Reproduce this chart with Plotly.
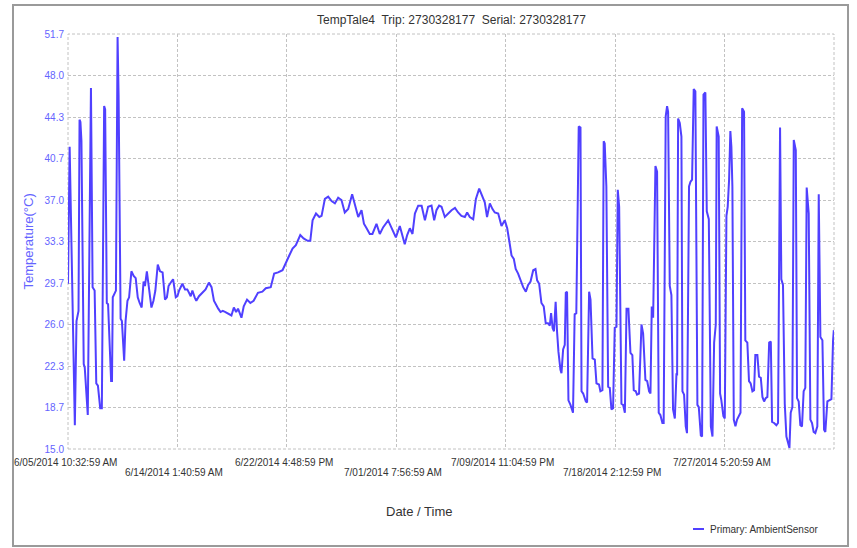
import pandas as pd
import plotly.graph_objects as go

# ---- text -------------------------------------------------------------
chart_title = "TempTale4  Trip: 2730328177  Serial: 2730328177"
series_name = "Primary: AmbientSensor"
x_title = "Date / Time"
y_title = "Temperature(°C)"

# ---- axes -------------------------------------------------------------
start_time = pd.Timestamp("2014-06-05 10:32:59")
tick_interval = pd.Timedelta(days=8, hours=15, minutes=8)
date_tick_labels = [
    "6/05/2014 10:32:59 AM",
    "6/14/2014 1:40:59 AM",
    "6/22/2014 4:48:59 PM",
    "7/01/2014 7:56:59 AM",
    "7/09/2014 11:04:59 PM",
    "7/18/2014 2:12:59 PM",
    "7/27/2014 5:20:59 AM",
]
temp_ticks = [15.0, 18.667, 22.333, 26.0, 29.667, 33.333, 37.0, 40.667, 44.333, 48.0, 51.667]
temp_tick_labels = ["15.0", "18.7", "22.3", "26.0", "29.7", "33.3", "37.0", "40.7", "44.3", "48.0", "51.7"]

# ---- logger readings: days since trip start, temperature in °C ---------
elapsed_days = [
    0.00, 0.05, 0.13, 0.54, 0.67, 0.83, 0.91, 0.98, 1.06, 1.24,
    1.32, 1.56, 1.81, 1.94, 2.10, 2.23, 2.36, 2.54, 2.67, 2.85,
    2.93, 3.06, 3.16, 3.40, 3.47, 3.53, 3.65, 3.78, 3.91, 3.99,
    4.15, 4.25, 4.43, 4.54, 4.69, 4.82, 5.00, 5.18, 5.34, 5.50,
    5.65, 5.81, 5.96, 6.07, 6.22, 6.38, 6.58, 6.74, 6.89, 7.08,
    7.26, 7.46, 7.65, 7.80, 7.93, 8.16, 8.29, 8.50, 8.63,
    8.76, 9.02, 9.23, 9.41, 9.68, 9.81, 9.99, 10.12, 10.33, 10.59,
    10.85, 11.11, 11.32, 11.51, 11.64, 11.85, 12.03, 12.21, 12.42, 12.68,
    12.89, 13.08, 13.26, 13.41, 13.68, 13.86, 14.12, 14.38, 14.64, 14.98,
    15.33, 15.60, 15.99, 16.26, 16.57, 16.92, 17.26, 17.45, 17.71, 17.97,
    18.32, 18.58, 18.90, 19.11, 19.29, 19.56, 19.82, 20.00, 20.26, 20.52,
    20.79, 21.05, 21.31, 21.57, 21.83, 22.10, 22.41, 22.62, 22.89, 23.15,
    23.34, 23.55, 23.80, 24.01, 24.33, 24.59, 24.86, 25.25, 25.52, 25.86,
    26.17, 26.56,
    26.75, 26.96, 27.17, 27.36, 27.62, 27.89, 28.15, 28.40, 28.67, 28.88,
    29.06, 29.27, 29.46, 29.72, 29.99, 30.25, 30.52, 30.77, 31.03, 31.30,
    31.48, 31.69, 31.96, 32.17, 32.43, 32.70, 32.87, 33.05, 33.27, 33.48,
    33.66, 33.93, 34.19, 34.45, 34.64, 34.80, 34.98, 35.16, 35.31, 35.50,
    35.68, 35.90, 36.11, 36.29, 36.48, 36.69, 36.87, 37.00, 37.16, 37.34,
    37.52, 37.68, 37.86, 38.00,
    38.10, 38.22, 38.33, 38.46, 38.57, 38.68, 38.84, 38.92, 39.05, 39.18,
    39.26, 39.36, 39.47, 39.63, 39.83, 39.96, 40.09, 40.28, 40.42, 40.50,
    40.63, 40.84, 40.94, 41.10, 41.21, 41.37, 41.55, 41.68, 41.88, 41.99,
    42.15, 42.25, 42.33, 42.46, 42.60, 42.73, 42.86, 42.99, 43.12, 43.26,
    43.36, 43.47, 43.65, 43.78, 43.92, 44.05, 44.20, 44.36, 44.51, 44.62,
    44.78, 44.88, 45.04, 45.23, 45.36, 45.54, 45.68, 45.83, 45.94, 46.04,
    46.15, 46.33, 46.46, 46.59, 46.72, 46.88, 46.98, 47.14, 47.25, 47.33,
    47.46, 47.59, 47.72, 47.86, 47.99, 48.04, 48.12, 48.25, 48.38, 48.46,
    48.59, 48.72, 48.82, 48.98, 49.09, 49.22, 49.35, 49.48, 49.64, 49.75,
    49.91, 50.01, 50.12, 50.27, 50.38, 50.54, 50.70, 50.83, 50.96, 51.09,
    51.16, 51.32, 51.43, 51.53, 51.69, 51.80, 51.93, 52.03, 52.14, 52.24,
    52.32, 52.40, 52.51, 52.64, 52.77, 52.93, 53.04, 53.17, 53.32, 53.42,
    53.58, 53.71, 53.84, 53.98, 54.11, 54.21, 54.37, 54.50, 54.64, 54.77,
    54.90, 55.03, 55.16, 55.30, 55.43, 55.53, 55.69, 55.87, 56.00, 56.16,
    56.26, 56.39, 56.53, 56.66, 56.79, 56.90, 57.00, 57.13, 57.24, 57.40,
    57.50, 57.63, 57.76, 57.89, 58.02, 58.15, 58.26, 58.42, 58.55, 58.68,
    58.81, 58.94, 59.10, 59.21, 59.34, 59.50, 59.63, 59.73, 59.89, 60.08,
    60.21, 60.34, 60.40,
]
temperature_c = [
    29.6, 33.9, 41.7, 17.1, 26.3, 27.2, 44.1, 43.9, 42.2, 22.5,
    22.2, 18.0, 46.9, 29.3, 29.0, 20.8, 20.6, 18.6, 18.6, 45.3,
    45.0, 27.9, 27.8, 21.0, 21.0, 28.4, 28.7, 29.0, 51.4, 46.3,
    26.5, 26.3, 22.8, 26.3, 28.1, 28.4, 30.7, 30.3, 30.1, 28.4,
    27.9, 27.5, 29.8, 29.4, 30.7, 29.3, 27.5, 28.1, 29.0, 31.3,
    30.7, 30.6, 28.2, 28.4, 29.4, 29.8, 30.0, 28.4, 28.5,
    29.0, 29.6, 29.1, 29.1, 28.5, 29.0, 28.4, 28.1, 28.5, 28.8,
    29.1, 29.7, 29.3, 28.1, 27.8, 27.4, 27.1, 27.2, 27.1, 26.9,
    26.8, 27.5, 27.1, 27.4, 26.6, 27.6, 28.2, 27.9, 28.1, 28.8,
    28.9, 29.2, 29.3, 30.5, 30.6, 30.8, 31.7, 32.1, 32.7, 33.0,
    33.9, 33.6, 33.4, 33.4, 35.2, 35.8, 35.5, 35.6, 37.1, 37.3,
    36.9, 36.7, 37.2, 37.0, 35.9, 36.2, 37.5, 36.7, 35.5, 36.1,
    34.9, 34.5, 34.0, 34.0, 34.9, 34.0, 34.6, 35.2, 34.6, 33.7,
    34.7, 33.1,
    33.9, 34.5, 34.0, 35.8, 36.5, 36.5, 35.2, 36.4, 36.5, 35.2,
    36.1, 36.5, 36.4, 35.5, 35.8, 36.1, 36.3, 35.9, 35.6, 35.5,
    35.9, 35.5, 35.3, 37.1, 38.0, 37.2, 36.8, 35.5, 36.7, 36.2,
    35.9, 35.8, 34.7, 35.2, 34.5, 33.4, 32.1, 31.8, 30.9, 30.5,
    29.9, 29.3, 28.9, 29.5, 29.8, 30.8, 30.9, 29.9, 29.6, 27.9,
    27.6, 26.1, 26.1, 25.9,
    27.0, 25.7, 25.4, 28.0, 25.4, 23.6, 22.0, 21.7, 23.8, 24.2,
    28.8, 28.9, 19.3, 18.9, 18.2, 26.9, 27.0, 43.5, 43.4, 20.1,
    19.9, 19.2, 19.1, 28.9, 28.2, 23.0, 22.9, 20.8, 20.7, 20.1,
    20.2, 42.2, 42.0, 38.2, 20.5, 20.4, 18.5, 18.6, 25.7, 25.8,
    37.9, 36.4, 19.0, 18.9, 18.2, 27.4, 27.4, 23.5, 23.3, 20.2,
    20.1, 19.8, 19.9, 26.0, 25.2, 21.1, 21.0, 20.1, 19.9, 27.6,
    26.6, 40.0, 39.5, 18.2, 18.0, 17.3, 17.3, 44.4, 45.3, 44.8,
    29.4, 28.6, 18.5, 17.7, 21.7, 21.5, 44.2, 43.8, 42.6, 20.1,
    19.8, 17.0, 16.4, 38.2, 38.6, 38.8, 46.8, 46.6, 18.9, 18.7,
    16.2, 16.1, 46.3, 46.5, 36.0, 35.3, 17.0, 16.1, 24.4, 26.0,
    43.5, 42.6, 19.9, 19.3, 17.9, 17.7, 35.6, 36.4, 38.8, 43.1,
    41.7, 38.2, 17.6, 17.0, 17.6, 18.0, 18.2, 45.1, 44.8, 24.6,
    24.4, 21.0, 20.8, 20.1, 20.2, 23.3, 23.3, 21.4, 21.3, 19.6,
    19.2, 19.5, 19.6, 24.4, 24.5, 17.4, 17.3, 17.1, 17.3, 43.4,
    30.0, 29.5, 19.0, 16.1, 15.4, 15.1, 18.2, 18.7, 42.3, 41.4,
    19.5, 19.2, 17.1, 17.0, 20.1, 20.4, 38.1, 35.8, 17.6, 17.3,
    16.5, 16.4, 17.0, 37.5, 24.9, 24.6, 16.7, 16.5, 19.2, 19.3,
    19.4, 24.6, 25.5,
]

# ---- styling ----------------------------------------------------------
FONT = "Liberation Sans, Arial, Helvetica, sans-serif"
LINE_BLUE = "#5040ff"
LABEL_BLUE = "#6464ff"
TEXT_GREY = "#333333"
GRID_GREY = "#c2c2c2"
FRAME_GREY = "#9a9a9a"
GRID_DASH = "3px,2px"

times = start_time + pd.to_timedelta(elapsed_days, unit="D")
tick_times = [start_time + k * tick_interval for k in range(len(date_tick_labels) + 1)]
tick_strs = [t.strftime("%Y-%m-%d %H:%M:%S") for t in tick_times]

fig = go.Figure(
    go.Scatter(
        x=times,
        y=temperature_c,
        mode="lines",
        name=series_name,
        line=dict(color=LINE_BLUE, width=2),
        showlegend=False,
    )
)

fig.update_layout(
    width=857,
    height=548,
    margin=dict(l=68, r=23, t=34, b=99),
    paper_bgcolor="white",
    plot_bgcolor="white",
    font=dict(family=FONT, size=10, color=TEXT_GREY),
    showlegend=False,
)

fig.update_xaxes(
    type="date",
    range=[tick_strs[0], tick_strs[-1]],
    tickmode="array",
    tickvals=tick_strs,
    showticklabels=False,
    ticks="",
    showgrid=True,
    gridcolor=GRID_GREY,
    gridwidth=1,
    griddash=GRID_DASH,
    zeroline=False,
    showline=False,
)

fig.update_yaxes(
    range=[temp_ticks[0], temp_ticks[-1]],
    tickmode="array",
    tickvals=temp_ticks,
    ticktext=temp_tick_labels,
    tickfont=dict(family=FONT, size=10, color=LABEL_BLUE),
    ticklabelstandoff=3,
    ticks="",
    showgrid=True,
    gridcolor=GRID_GREY,
    gridwidth=1,
    griddash=GRID_DASH,
    zeroline=False,
    showline=False,
)

annotations = []
# staggered date labels under the grid lines
for i, label in enumerate(date_tick_labels):
    annotations.append(dict(
        x=tick_strs[i], xref="x", y=0, yref="paper",
        text=label, showarrow=False,
        xanchor="center", yanchor="middle",
        xshift=-3, yshift=-13 if i % 2 == 0 else -23,
        font=dict(family=FONT, size=10, color=TEXT_GREY),
    ))

annotations += [
    dict(text=chart_title, x=0.5, y=1.0337, xref="paper", yref="paper",
         showarrow=False, xanchor="center", yanchor="middle",
         font=dict(family=FONT, size=12, color=TEXT_GREY)),
    dict(text=x_title, x=0.4582, y=-0.1518, xref="paper", yref="paper",
         showarrow=False, xanchor="center", yanchor="middle",
         font=dict(family=FONT, size=13, color=TEXT_GREY)),
    dict(text=y_title, x=-0.0522, y=0.5, xref="paper", yref="paper",
         showarrow=False, textangle=-90, xanchor="center", yanchor="middle",
         font=dict(family=FONT, size=13, color=LABEL_BLUE)),
    dict(text=series_name, x=0.8355, y=-0.1928, xref="paper", yref="paper",
         showarrow=False, xanchor="left", yanchor="middle",
         font=dict(family=FONT, size=10, color=TEXT_GREY)),
]

shapes = [
    # outer frame around the whole chart
    dict(type="rect", xref="paper", yref="paper",
         x0=-0.0718, x1=1.0183, y0=-0.2337, y1=1.0699,
         line=dict(color=FRAME_GREY, width=2), fillcolor="rgba(0,0,0,0)", layer="below"),
    # dotted border of the plotting area, matching the grid
    dict(type="rect", xref="paper", yref="paper",
         x0=0, x1=1, y0=0, y1=1,
         line=dict(color=GRID_GREY, width=1, dash=GRID_DASH),
         fillcolor="rgba(0,0,0,0)", layer="below"),
    # legend sample line
    dict(type="line", xref="paper", yref="paper",
         x0=0.8159, x1=0.8303, y0=-0.1928, y1=-0.1928,
         line=dict(color=LINE_BLUE, width=2)),
]

fig.update_layout(annotations=annotations, shapes=shapes)

fig.write_html("out.html")
